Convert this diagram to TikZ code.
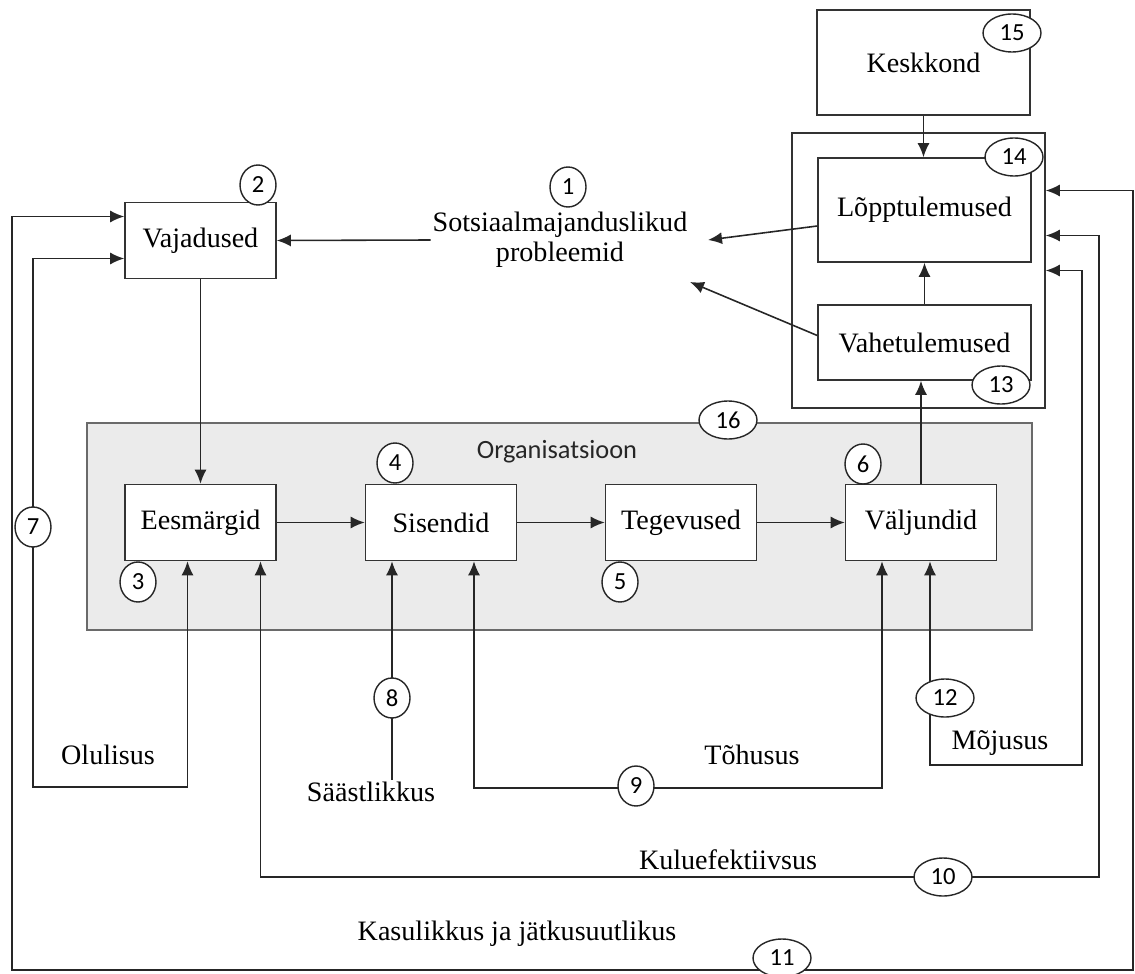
\documentclass[tikz,border=0pt]{standalone}
\usepackage{fontspec}
\setmainfont{Liberation Serif}
\newfontfamily\numfont{Carlito}
\usetikzlibrary{arrows.meta,shapes.geometric,calc}
\definecolor{orgfill}{HTML}{EBEBEB}
\definecolor{orgline}{HTML}{6A6A6A}
\tikzset{
  box/.style={draw=black!80, fill=white, line width=0.9pt, minimum width=3.02cm, minimum height=1.52cm, font=\fontsize{16}{18}\selectfont},
  bigbox/.style={box, minimum width=4.26cm},
  num/.style={ellipse, draw=black!85, fill=white, line width=0.8pt, inner sep=0pt, minimum width=0.72cm, minimum height=0.8cm, font=\numfont\fontsize{14}{15}\selectfont},
  numw/.style={num, minimum width=1.16cm, minimum height=0.76cm},
  lbl/.style={font=\fontsize{16}{17}\selectfont, inner sep=1pt},
  conn/.style={draw=black!85, line width=0.9pt},
}
\begin{document}
\begin{tikzpicture}[x=0.02cm, y=-0.02cm, >={Latex[length=0.28cm,width=0.24cm]}]
    \useasboundingbox (0,0) rectangle (1135,973);

    % background frames
    \node[draw=orgline, fill=orgfill, line width=1.2pt, minimum width=18.9cm, minimum height=4.14cm] (org) at (559.5,526.5) {};
    \node[font=\numfont\fontsize{15}{17}\selectfont, text=black!85] (orgl) at (557,452) {Organisatsioon};
    \node[draw=black!80, line width=0.9pt, minimum width=5.06cm, minimum height=5.5cm] (res) at (918.5,270.5) {};

    % boxes
    \node[box] (vaj) at (200.5,240.5) {Vajadused};
    \node[box] (eesm) at (200.5,522.5) {Eesmärgid};
    \node[box] (sis) at (441,522.5) {Sisendid};
    \node[box] (teg) at (681,522.5) {Tegevused};
    \node[box] (valj) at (921,522.5) {Väljundid};
    \node[bigbox, minimum height=2.1cm] (kesk) at (923.5,62.5) {Keskkond};
    \node[bigbox, minimum height=2.08cm] (lopp) at (924.5,210) {Lõpptulemused};
    \node[bigbox, minimum height=1.5cm] (vahe) at (924.5,342.5) {Vahetulemused};

    % texts
    \node[lbl, align=center] (probl) at (560,240) {Sotsiaalmajanduslikud\\probleemid};
    \node[lbl] (olul) at (108,755) {Olulisus};
    \node[lbl] (saast) at (371,792) {Säästlikkus};
    \node[lbl] (tohus) at (752,755) {Tõhusus};
    \node[lbl] (mojus) at (1000,743) {Mõjusus};
    \node[lbl] (kulu) at (728,860) {Kuluefektiivsus};
    \node[lbl] (kasul) at (517,934) {Kasulikkus ja jätkusuutlikus};

    \coordinate (pA) at (708,240);
    \coordinate (pB) at (690,282);
    \coordinate (olB) at (33,787);
    \coordinate (kaL) at (12,970);
    \coordinate (kaR) at (1133,970);
    \coordinate (kuR) at (1099,877);
    \coordinate (moR) at (1082,765);
    \coordinate (toR) at (882,788);
    \coordinate (sisA) at ($(sis.south)+(-49,0)$);

    % main flow
    \draw[conn,->] (probl.west) -- (vaj.east);
    \draw[conn,->] (vaj.south) -- (eesm.north);
    \foreach \a/\b in {eesm/sis, sis/teg, teg/valj}
        \draw[conn,->] (\a) -- (\b);
    \draw[conn,->] (valj.north) -- (valj.north |- vahe.south);
    \draw[conn,->] (vahe.north) -- (lopp.south);
    \draw[conn,->] (kesk.south) -- (kesk.south |- lopp.north);
    \draw[conn,->] ($(lopp.west)+(0,16)$) -- (pA);
    \draw[conn,->] ($(vahe.west)+(0,-7)$) -- (pB);

    % feedback loops
    \draw[conn,<->] ($(vaj.west)+(0,-24)$) -| (kaL) -- (kaR) |- ($(res.east)+(0,-80)$);
    \draw[conn,<->] ($(vaj.west)+(0,18)$) -| (olB) -| ($(eesm.south)+(-13,0)$);
    \draw[conn,<->] ($(eesm.south)+(60,0)$) |- (kuR) |- ($(res.east)+(0,-35)$);
    \draw[conn,<->] ($(valj.south)+(9,0)$) |- (moR) |- (res.east);
    \draw[conn,<->] ($(sis.south)+(33,0)$) |- (toR) -- ($(valj.south)+(-39,0)$);
    \draw[conn,->] (saast.north -| sisA) -- (sisA);

    % numbers
    \foreach \n/\x/\y in {1/568/187, 2/258/185, 3/138/582, 4/395/463, 5/620/582, 6/863/464, 7/33/527, 8/392/698, 9/636/786}
        \node[num] (n\n) at (\x,\y) {\n};
    \foreach \n/\x/\y in {10/943/877, 11/782/958, 12/945/698, 13/1001/385, 14/1014/157, 15/1012/33, 16/728/420}
        \node[numw] (n\n) at (\x,\y) {\n};

\end{tikzpicture}
\end{document}
